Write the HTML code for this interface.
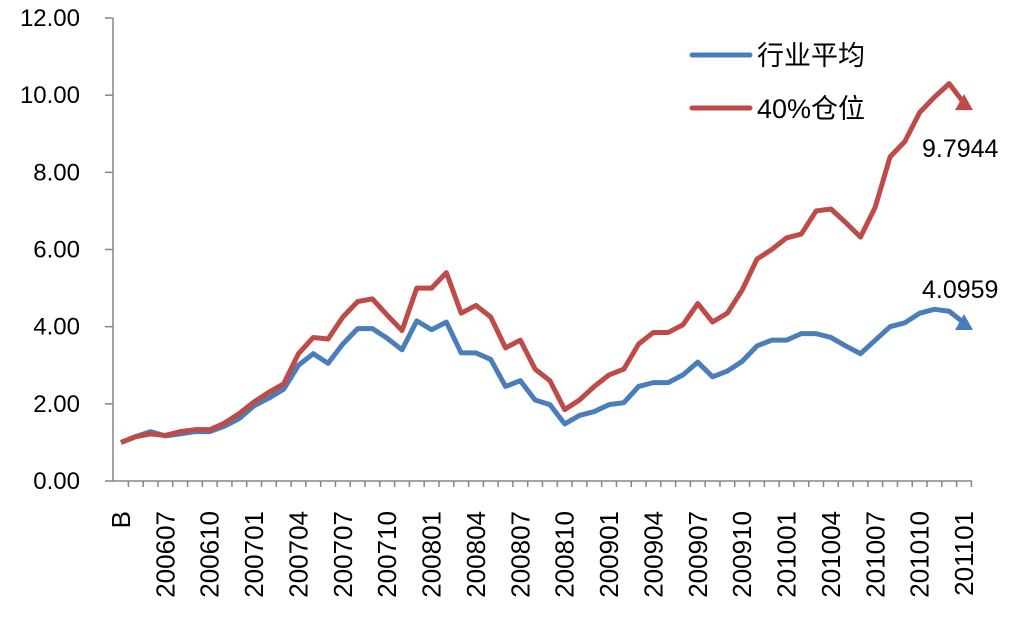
<!DOCTYPE html>
<html><head><meta charset="utf-8"><style>
body{margin:0;background:#fff}
svg{font-family:"Liberation Sans","Noto Sans CJK SC",sans-serif}
</style></head><body>
<svg width="1017" height="615" id="c">
</svg>
<script>
const categories=["B"];
(function(){let y=2006,m=5;for(let i=1;i<58;i++){categories.push(y+String(m).padStart(2,"0"));m++;if(m>12){m=1;y++;}}})();
const industryAvg=[1.0,1.15,1.28,1.17,1.22,1.28,1.28,1.42,1.62,1.95,2.15,2.38,3.0,3.3,3.05,3.55,3.95,3.95,3.7,3.4,4.15,3.92,4.12,3.32,3.32,3.15,2.45,2.6,2.1,1.98,1.48,1.7,1.8,1.98,2.03,2.45,2.55,2.55,2.75,3.08,2.7,2.85,3.1,3.5,3.65,3.65,3.82,3.82,3.72,3.5,3.3,3.65,4.0,4.1,4.35,4.45,4.4,4.0959];
const position40=[1.0,1.15,1.22,1.18,1.28,1.33,1.33,1.5,1.75,2.05,2.3,2.52,3.3,3.72,3.68,4.25,4.65,4.72,4.3,3.9,5.0,5.0,5.4,4.35,4.55,4.25,3.45,3.65,2.9,2.6,1.85,2.1,2.45,2.75,2.9,3.55,3.85,3.85,4.05,4.6,4.12,4.35,4.95,5.75,6.0,6.3,6.4,7.0,7.05,6.7,6.32,7.1,8.4,8.8,9.55,9.95,10.3,9.7944];
const yTicks=[0,2,4,6,8,10,12];
const svg=document.getElementById('c');const NS="http://www.w3.org/2000/svg";
const AX=113,X0=121,X1=964,Y0=481,Y12=18;
const xs=i=>X0+i*(X1-X0)/(categories.length-1);
const ys=v=>Y0-(v/12)*(Y0-Y12);
function mk(t,a,txt){const e=document.createElementNS(NS,t);for(const k in a)e.setAttribute(k,a[k]);if(txt!==undefined)e.textContent=txt;svg.appendChild(e);return e;}
let e=mk('line',{x1:AX,y1:Y0,x2:972,y2:Y0,stroke:'#868686','stroke-width':1.5});

e=mk('line',{x1:AX,y1:Y12,x2:AX,y2:Y0,stroke:'#868686','stroke-width':1.5});

yTicks.forEach(v=>{const y=ys(v);
 let t=mk('line',{x1:AX-8,y1:y,x2:AX,y2:y,stroke:'#868686','stroke-width':1.5});
 
 let l=mk('text',{x:80,y:y+8,'text-anchor':'end','font-size':24,fill:'#000'},v.toFixed(2));
 });
const step=(X1-X0)/(categories.length-1);
categories.forEach((c,i)=>{const x=xs(i);
 let t=mk('line',{x1:x+step/2,y1:Y0,x2:x+step/2,y2:Y0+6,stroke:'#868686','stroke-width':1.5});
 
 if(i%3)return;
 let l=mk('text',{x:x+9,y:511,'text-anchor':'end','font-size':26,transform:`rotate(-90 ${x+9} 511)`,fill:'#000'},c);
 });
function series(d,col,name,ly){
 let p=mk('polyline',{points:d.map((v,i)=>xs(i)+','+ys(v)).join(' '),fill:'none',stroke:col,'stroke-width':5,'stroke-linejoin':'round'});
 
 const n=d.length-1,x=xs(n),y=ys(d[n]);
 let a=mk('polygon',{points:`${x-9},${y+7} ${x+9},${y+7} ${x},${y-9}`,fill:col});
 
 let t=mk('text',{x:922,y:ly,'font-size':25,fill:'#000'},d[n].toFixed(4));
 
}
series(industryAvg,'#4a7ebb','industry-average-line',298);
series(position40,'#be4b48','position-40-line',157);
[['行业平均','#4a7ebb',55],['40%仓位','#be4b48',108]].forEach(([n,c,y])=>{
 let l=mk('line',{x1:692,y1:y,x2:750,y2:y,stroke:c,'stroke-width':5,'stroke-linecap':'round'});
 
 let t=mk('text',{x:757,y:y+10,'font-size':27,fill:'#000'},n);
 });
</script>
</body></html>
